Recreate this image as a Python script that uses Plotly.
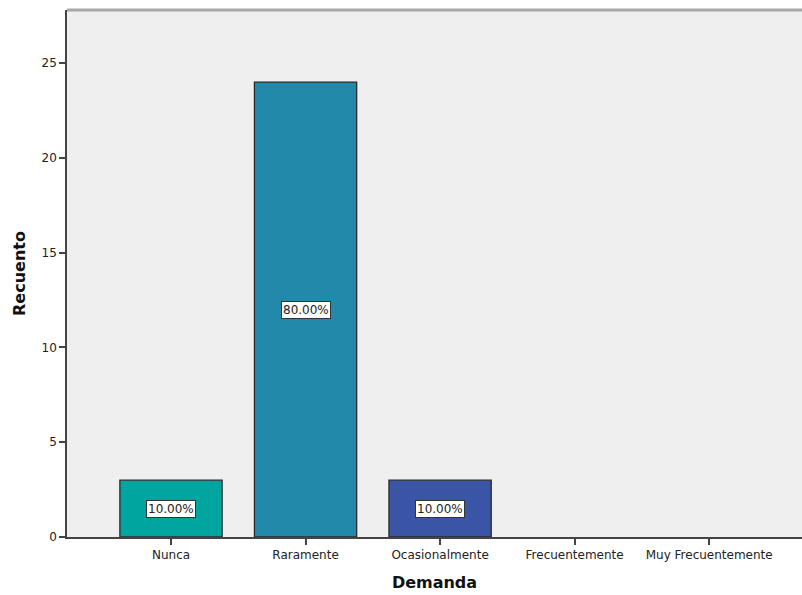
import plotly.graph_objects as go

categories = ["Nunca", "Raramente", "Ocasionalmente", "Frecuentemente", "Muy Frecuentemente"]
counts = [3, 24, 3, 0, 0]
pct_labels = ["10.00%", "80.00%", "10.00%", "", ""]
colors = ["#00A5A0", "#2389AA", "#3A54A6", "#888888", "#888888"]

idx = list(range(len(categories)))
FONT = "DejaVu Sans, Verdana, sans-serif"

fig = go.Figure()
fig.add_trace(go.Bar(
    x=idx, y=counts, width=0.76,
    marker=dict(color=colors,
                line=dict(color="#2b2b2b", width=[1.3 if c > 0 else 0 for c in counts])),
    hoverinfo="skip",
))

for i, (c, lab) in enumerate(zip(counts, pct_labels)):
    if c > 0 and lab:
        fig.add_annotation(
            x=i, y=c / 2, text=lab, showarrow=False,
            font=dict(family=FONT, size=12, color="#222"),
            bgcolor="white", bordercolor="#333", borderwidth=1, borderpad=1,
        )

fig.add_shape(type="line", xref="paper", yref="paper", x0=0, x1=1, y0=1, y1=1,
              line=dict(color="#a8a8a8", width=3))

fig.update_layout(
    width=802, height=595,
    margin=dict(l=67, r=0, t=10, b=58),
    paper_bgcolor="white", plot_bgcolor="#efefef",
    showlegend=False,
    font=dict(family=FONT, size=12, color="#222"),
    xaxis=dict(
        tickmode="array", tickvals=idx, ticktext=categories,
        range=[-0.773, 4.69],
        showgrid=False, zeroline=False,
        showline=True, linecolor="#444", linewidth=1.5,
        ticks="outside", ticklen=6, tickcolor="#444", tickwidth=1.5,
        tickfont=dict(family=FONT, size=12, color="#222"),
        title=dict(text="<b>Demanda</b>", font=dict(family=FONT, size=16, color="#111"), standoff=16),
    ),
    yaxis=dict(
        range=[0, 27.8],
        tickvals=[0, 5, 10, 15, 20, 25],
        showgrid=False, zeroline=False,
        showline=True, linecolor="#444", linewidth=1.5,
        ticks="outside", ticklen=6, tickcolor="#444", tickwidth=1.5,
        tickfont=dict(family=FONT, size=12, color="#222"),
        title=dict(text="<b>Recuento</b>", font=dict(family=FONT, size=16, color="#111"), standoff=12),
    ),
)

fig.write_html(
    "out.html",
    config={"displayModeBar": False},
    post_script="document.body.style.margin='0';document.body.style.overflow='hidden';",
)
